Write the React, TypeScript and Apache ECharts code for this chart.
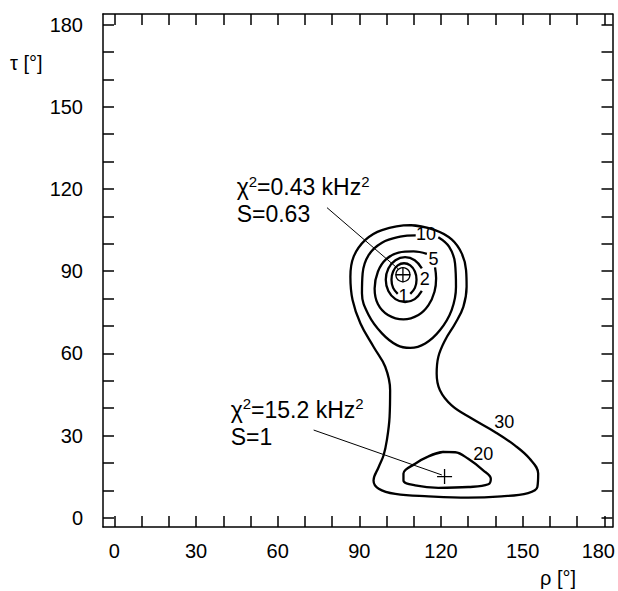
import React, { useEffect, useRef } from "react";
import * as echarts from "echarts";

const FONT = "'Liberation Sans', Arial, sans-serif";

const xTickValues = [0, 10, 20, 30, 40, 50, 60, 70, 80, 90, 100, 110, 120, 130, 140, 150, 160, 170, 180];
const yTickValues = [0, 10, 20, 30, 40, 50, 60, 70, 80, 90, 100, 110, 120, 130, 140, 150, 160, 170, 180];
const xLabelValues = [0, 30, 60, 90, 120, 150, 180];
const yLabelValues = [0, 30, 60, 90, 120, 150, 180];

// contour lines (rho, tau) in degrees
const contour30 = [
  [108.7, 106.8], [117.8, 105.0], [123.9, 101.6], [127.6, 96.5], [129.2, 90.4], [129.4, 84.3],
  [128.2, 77.0], [125.2, 70.9], [121.5, 64.8], [119.0, 58.7], [118.4, 52.6], [119.6, 46.5],
  [123.9, 41.0], [131.3, 36.2], [139.8, 31.3], [147.1, 26.4], [152.6, 21.5], [155.7, 16.1],
  [155.4, 11.2], [152.0, 9.0], [142.2, 7.8], [130.0, 7.3], [115.4, 7.8], [103.2, 8.7],
  [97.1, 10.6], [95.2, 13.6], [97.1, 18.5], [98.9, 22.8], [100.1, 28.3], [101.1, 36.8],
  [101.3, 46.5], [99.5, 55.1], [95.2, 62.4], [90.4, 70.9], [87.5, 79.5], [86.7, 88.0],
  [87.9, 95.3], [92.2, 101.4], [98.3, 105.0], [108.7, 106.8], [117.8, 105.0]
];
const contour20 = [
  [120.9, 24.0], [115.4, 22.4], [110.5, 19.7], [106.2, 16.1], [106.2, 13.6], [110.5, 11.8],
  [119.0, 10.9], [130.0, 11.2], [137.4, 12.2], [138.3, 14.2], [135.5, 17.3], [130.0, 21.5],
  [125.2, 23.9], [120.9, 24.0], [115.4, 22.4]
];
const contour10 = [
  [119.0, 102.4], [122.95, 98.95], [125.15, 92.85], [125.5, 84.3], [123.9, 75.8], [119.65, 68.5],
  [114.2, 63.6], [108.7, 62.0], [103.8, 63.0], [98.3, 67.3], [93.4, 74.0], [90.95, 81.9],
  [91.2, 89.2], [93.4, 95.9], [98.3, 100.4], [105.0, 102.6], [110.7, 103.1]
];
const contour5 = [
  [114.8, 96.3], [109.9, 97.2], [104.4, 96.8], [99.75, 94.3], [96.8, 89.8], [95.6, 83.7],
  [96.8, 78.0], [100.5, 74.0], [106.2, 72.4], [111.7, 74.0], [115.4, 77.6], [117.6, 82.5],
  [118.2, 87.4], [117.8, 91.4]
];
const contour2 = [
  [112.95, 91.0], [110.35, 94.0], [106.8, 95.1], [103.25, 94.0], [100.65, 91.0], [99.7, 86.9],
  [100.65, 82.8], [103.25, 79.8], [106.8, 78.7], [110.35, 79.8], [112.95, 82.8]
];
const contour1 = [
  [108.7, 81.7], [110.4, 83.9], [111.0, 86.9], [110.4, 89.9], [108.7, 92.1], [106.4, 92.9],
  [104.1, 92.1], [102.4, 89.9], [101.8, 86.9], [102.4, 83.9], [104.1, 81.7]
];

const contourLabels = [
  { value: [114.5, 103.4], text: "10" },
  { value: [117.2, 94.4], text: "5" },
  { value: [114.0, 87.2], text: "2" },
  { value: [106.2, 81.0], text: "1" },
  { value: [135.5, 23.1], text: "20" },
  { value: [143.2, 35.0], text: "30" }
];

const minimumGlobal = [106.0, 88.7];
const minimumLocal = [121.3, 15.0];

const leader1 = [[78.1, 113.2], [104.2, 90.9]];
const leader2 = [[73.2, 32.0], [120.3, 15.6]];

const annotations = [
  { value: [44.9, 125.5], chi2: "0.43", s: "0.63" },
  { value: [42.7, 44.4], chi2: "15.2", s: "1" }
];

export default function App() {
  const ref = useRef<HTMLDivElement>(null);
  useEffect(() => {
    if (!ref.current) return;
    const chart = echarts.init(ref.current, undefined, { renderer: "svg" });
    const axisLineStyle = { color: "#000", width: 1.5 };
    const mkX = (pos: string, labels: boolean) => ({
      type: "value",
      position: pos,
      min: -4.2,
      max: 183,
      axisLine: { show: true, onZero: false, lineStyle: axisLineStyle },
      axisTick: { show: true, inside: true, length: 11, customValues: xTickValues, lineStyle: axisLineStyle },
      axisLabel: labels
        ? {
            show: true,
            customValues: xLabelValues,
            fontSize: 20,
            color: "#000",
            fontFamily: FONT,
            margin: 14,
            formatter: (v: number) => (v === 180 ? "{r|180}" : String(v)),
            rich: { r: { fontSize: 20, color: "#000", fontFamily: FONT, padding: [0, 12, 0, 0] } }
          }
        : { show: false },
      splitLine: { show: false }
    });
    const mkY = (pos: string, labels: boolean) => ({
      type: "value",
      position: pos,
      min: -3.4,
      max: 183.9,
      axisLine: { show: true, onZero: false, lineStyle: axisLineStyle },
      axisTick: { show: true, inside: true, length: 11, customValues: yTickValues, lineStyle: axisLineStyle },
      axisLabel: labels
        ? { show: true, customValues: yLabelValues, fontSize: 20, color: "#000", fontFamily: FONT, margin: 20 }
        : { show: false },
      splitLine: { show: false }
    });
    const contourSeries = (data: number[][]) => ({
      type: "line",
      data,
      smooth: 0.4,
      symbol: "none",
      lineStyle: { color: "#000", width: 2.3 },
      silent: true
    });
    const leaderSeries = (data: number[][]) => ({
      type: "line",
      data,
      symbol: "none",
      lineStyle: { color: "#000", width: 1 },
      silent: true
    });
    const crossSymbol = "path://M0 -10 L0 10 M-10 0 L10 0";
    chart.setOption({
      animation: false,
      backgroundColor: "#fff",
      grid: { left: 103, top: 14, right: 4, bottom: 64 },
      xAxis: [mkX("bottom", true), mkX("top", false)],
      yAxis: [mkY("left", true), mkY("right", false)],
      series: [
        contourSeries(contour30),
        contourSeries(contour20),
        contourSeries(contour10),
        contourSeries(contour5),
        contourSeries(contour2),
        contourSeries(contour1),
        leaderSeries(leader1),
        leaderSeries(leader2),
        {
          type: "scatter",
          data: [minimumGlobal],
          symbol: "circle",
          symbolSize: 14,
          itemStyle: { color: "rgba(0,0,0,0)", borderColor: "#000", borderWidth: 1.3, opacity: 1 },
          silent: true
        },
        {
          type: "scatter",
          data: [minimumGlobal, minimumLocal],
          symbol: crossSymbol,
          symbolSize: 15,
          itemStyle: { color: "none", borderColor: "#000", borderWidth: 1.3, opacity: 1 },
          silent: true
        },
        {
          type: "scatter",
          data: contourLabels.map((d) => ({ value: d.value, name: d.text })),
          symbolSize: 1,
          itemStyle: { color: "rgba(0,0,0,0)", opacity: 1 },
          label: {
            show: true,
            position: "inside",
            formatter: (p: any) => p.name,
            fontSize: 18,
            color: "#000",
            opacity: 1,
            fontFamily: FONT,
            align: "center",
            verticalAlign: "middle"
          },
          silent: true
        },
        {
          type: "scatter",
          data: annotations.map((d) => ({
            value: d.value,
            name: "{t|χ}{s|2}{t|=" + d.chi2 + " kHz}{s|2}\n{t|S=" + d.s + "}"
          })),
          symbolSize: 0,
          itemStyle: { color: "rgba(0,0,0,0)", opacity: 1 },
          label: {
            show: true,
            position: [0, 0],
            formatter: (p: any) => p.name,
            color: "#000",
            opacity: 1,
            align: "left",
            verticalAlign: "top",
            rich: {
              t: { fontSize: 23, lineHeight: 27, color: "#000", fontFamily: FONT, verticalAlign: "middle" },
              s: { fontSize: 15, lineHeight: 21, color: "#000", fontFamily: FONT, verticalAlign: "top" }
            }
          },
          silent: true
        }
      ],
      graphic: [
        {
          type: "text",
          left: 10,
          top: 53,
          style: { text: "τ [°]", fontSize: 20, fill: "#000", fontFamily: FONT }
        },
        {
          type: "text",
          left: 540,
          top: 568,
          style: { text: "ρ [°]", fontSize: 20, fill: "#000", fontFamily: FONT }
        }
      ]
    });
    return () => chart.dispose();
  }, []);
  return (
    <div
      ref={ref}
      style={{ position: "fixed", left: 0, top: 0, width: 618, height: 591, background: "#fff" }}
    />
  );
}
